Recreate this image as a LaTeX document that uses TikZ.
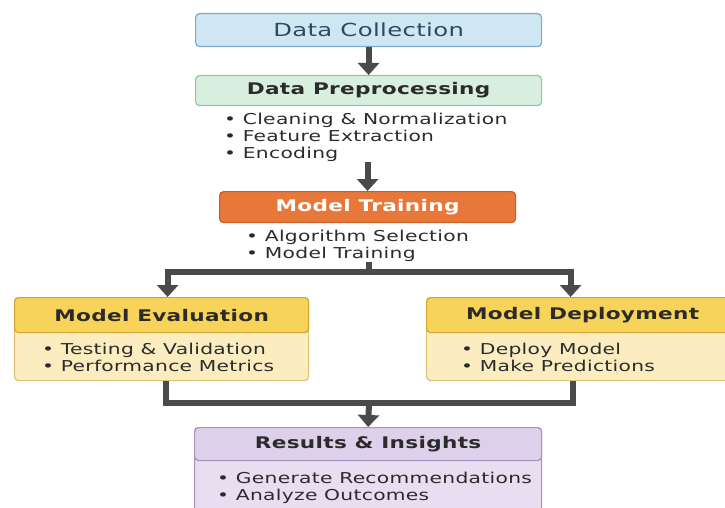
\documentclass[tikz,border=0pt]{standalone}
\usepackage{fontspec}
\setmainfont{DejaVu Sans}[FakeStretch=1.35, LetterSpace=2]
\usetikzlibrary{arrows.meta}

\definecolor{linkgray}{HTML}{4A4A4A}
\definecolor{textdark}{HTML}{2B2B2B}
\definecolor{collectfill}{HTML}{CFE6F3}
\definecolor{collectline}{HTML}{7FA9C6}
\definecolor{collecttext}{HTML}{2D4A60}
\definecolor{prepfill}{HTML}{D8EFE0}
\definecolor{prepline}{HTML}{93C6A3}
\definecolor{trainfill}{HTML}{E8783A}
\definecolor{trainline}{HTML}{C65E27}
\definecolor{yellowhead}{HTML}{F8D35A}
\definecolor{yellowline}{HTML}{D4A437}
\definecolor{yellowbody}{HTML}{FCEDC0}
\definecolor{purplehead}{HTML}{DDD0EA}
\definecolor{purpleline}{HTML}{A892C2}
\definecolor{purplebody}{HTML}{E8DDF1}

\begin{document}
\begin{tikzpicture}[x=1pt,y=-1pt,
  box/.style={rounded corners=4pt, line width=1.2pt, inner sep=0pt, anchor=north west,
    font=\fontsize{16}{20}\selectfont\bfseries, text=textdark},
  items/.style={anchor=north west, inner sep=0pt, align=left, text=textdark,
    font=\fontsize{15}{17}\selectfont},
  link/.style={draw=linkgray, line width=6pt},
  flow/.style={link, -{Triangle[width=21pt,length=12pt]}}]
\clip (0,0) rectangle (725,508);

% top of the pipeline
\node[box, draw=collectline, fill=collectfill, minimum width=346pt, minimum height=33pt,
  font=\fontsize{18}{20}\selectfont, text=collecttext] (collect) at (195,13) {Data Collection};
\node[box, draw=prepline, fill=prepfill, minimum width=346pt, minimum height=30pt] (prep) at (195,75) {Data Preprocessing};
\node[items] (preplist) at (224,113) {• Cleaning \& Normalization\\• Feature Extraction\\• Encoding};
\node[box, draw=trainline, fill=trainfill, minimum width=296pt, minimum height=31pt, text=white] (train) at (219,191) {Model Training};
\node[items] (trainlist) at (246,230) {• Algorithm Selection\\• Model Training};

% the two branches
\node[box, draw=yellowline!70, fill=yellowbody, minimum width=294pt, minimum height=83pt] (eval) at (14,297) {};
\node[box, draw=yellowline, fill=yellowhead, minimum width=294pt, minimum height=35pt] (evalhead) at (eval.north west) {Model Evaluation};
\node[items] (evallist) at (42,343) {• Testing \& Validation\\• Performance Metrics};
\node[box, draw=yellowline!70, fill=yellowbody, minimum width=312pt, minimum height=83pt] (deploy) at (426,297) {};
\node[box, draw=yellowline, fill=yellowhead, minimum width=312pt, minimum height=35pt] (deployhead) at (deploy.north west) {Model Deployment};
\node[items] (deploylist) at (461,343) {• Deploy Model\\• Make Predictions};

% results
\node[box, draw=purpleline, fill=purplebody, minimum width=347pt, minimum height=100pt] (results) at (194,427) {};
\node[box, draw=purpleline, fill=purplehead, minimum width=347pt, minimum height=33pt] (resultshead) at (results.north west) {Results \& Insights};
\node[items] (resultslist) at (217,472) {• Generate Recommendations\\• Analyze Outcomes};

\coordinate (split) at (369,272);
\coordinate (merge) at (369,403);
\draw[flow] (collect) -- (prep);
\draw[flow] (preplist.south -| train.north) -- (train.north);
\draw[link] (trainlist.south -| split) -- (split);
\draw[flow] (split) -| ([xshift=6pt]evalhead.north);
\draw[flow] (split) -| ([xshift=-12pt]deployhead.north);
\draw[link] ([xshift=4pt]eval.south) |- (merge) -| ([xshift=-10pt]deploy.south);
\draw[flow] (merge) -- (resultshead.north);
\end{tikzpicture}
\end{document}
